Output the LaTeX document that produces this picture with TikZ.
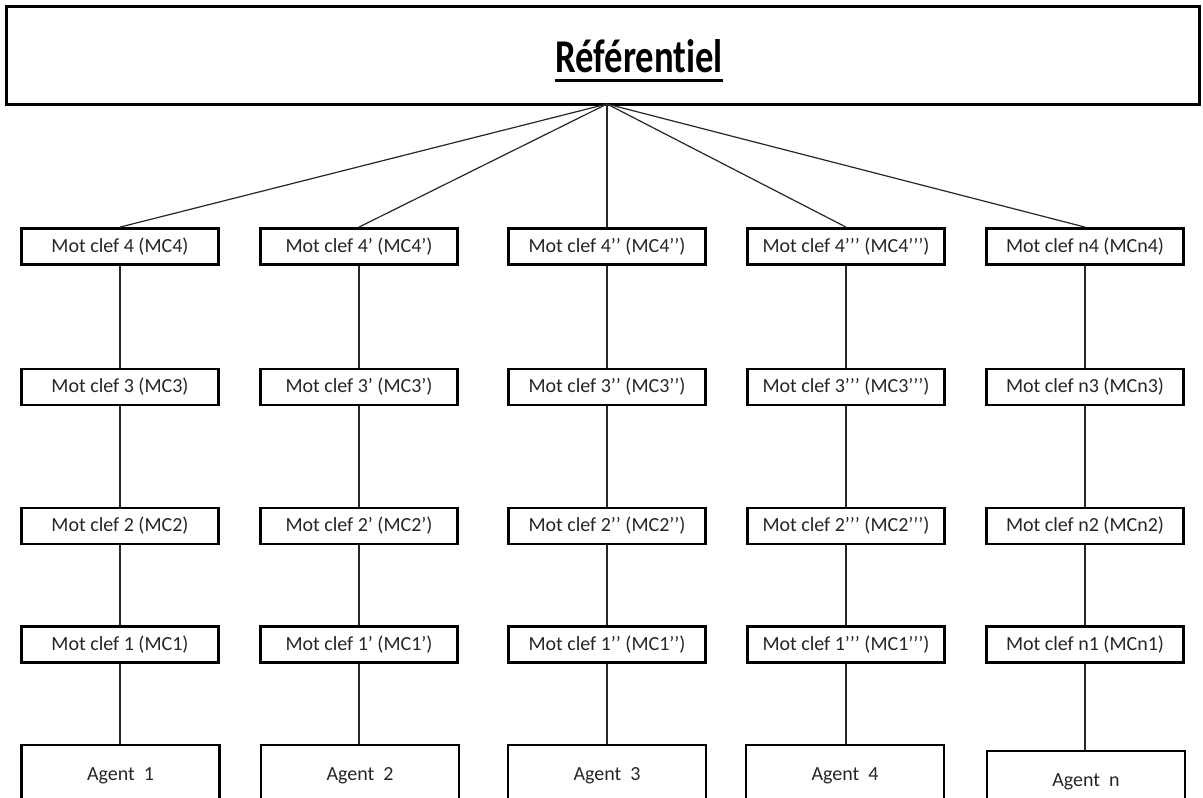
\documentclass[tikz,border=0pt]{standalone}
\usepackage{fontspec}
\setmainfont{Carlito}[Ligatures={NoCommon}]
\begin{document}
\begin{tikzpicture}[x=1pt,y=-1pt,
  kw/.style={draw=black,line width=2.8pt,fill=white,minimum width=197pt,minimum height=36pt,inner sep=0pt,font=\fontsize{20}{22}\selectfont,text=black!85},
  agentbox/.style={draw=black,line width=2.8pt,fill=white,minimum width=198pt,minimum height=62pt,inner sep=0pt,font=\fontsize{20}{22}\selectfont,text=black!85},
  link/.style={draw=black!85,line width=1.2pt}]
\useasboundingbox (0,0) rectangle (1203,798);
\fill[white] (0,0) rectangle (1203,798);

% header box
\node[draw=black,line width=3pt,minimum width=1193pt,minimum height=98pt,inner sep=0pt] (ref) at (603,55) {};
\node[font=\bfseries\fontsize{47}{50}\selectfont,inner sep=0pt,anchor=base] (title) at (639,72) {\scalebox{0.78}[1]{Référentiel}};
\draw[line width=3pt] (title.west |- 0,80) -- (title.east |- 0,80);
\coordinate (apex) at (607,104);

% keyword columns
\foreach \c/\x/\s in {1/120/{}, 2/359/{’}, 3/607/{’’}, 4/846/{’’’}} {
  \node[kw] (k\c4) at (\x,246.5) {Mot clef 4\s{} (MC4\s)};
  \node[kw] (k\c3) at (\x,387)   {Mot clef 3\s{} (MC3\s)};
  \node[kw] (k\c2) at (\x,526)   {Mot clef 2\s{} (MC2\s)};
  \node[kw] (k\c1) at (\x,644.5) {Mot clef 1\s{} (MC1\s)};
}
\node[kw] (k54) at (1085,246.5) {Mot clef n4 (MCn4)};
\node[kw] (k53) at (1085,387)   {Mot clef n3 (MCn3)};
\node[kw] (k52) at (1085,526)   {Mot clef n2 (MCn2)};
\node[kw] (k51) at (1085,644.5) {Mot clef n1 (MCn1)};

% agents
\node[agentbox] (a1) at (120.5,776) {Agent\hspace{0.45em}1};
\node[agentbox] (a2) at (360,776) {Agent\hspace{0.45em}2};
\node[agentbox] (a3) at (607,776) {Agent\hspace{0.45em}3};
\node[agentbox] (a4) at (845,776) {Agent\hspace{0.45em}4};
\node[agentbox] (a5) at (1086,782) {Agent\hspace{0.45em}n};

% connectors
\foreach \c in {1,...,5} {
  \draw[link] (apex) -- (k\c4.north);
  \draw[link] (k\c4) -- (k\c3);
  \draw[link] (k\c3) -- (k\c2);
  \draw[link] (k\c2) -- (k\c1);
  \draw[link] (k\c1.south) -- (a\c.north -| k\c1.south);
}
\end{tikzpicture}
\end{document}
